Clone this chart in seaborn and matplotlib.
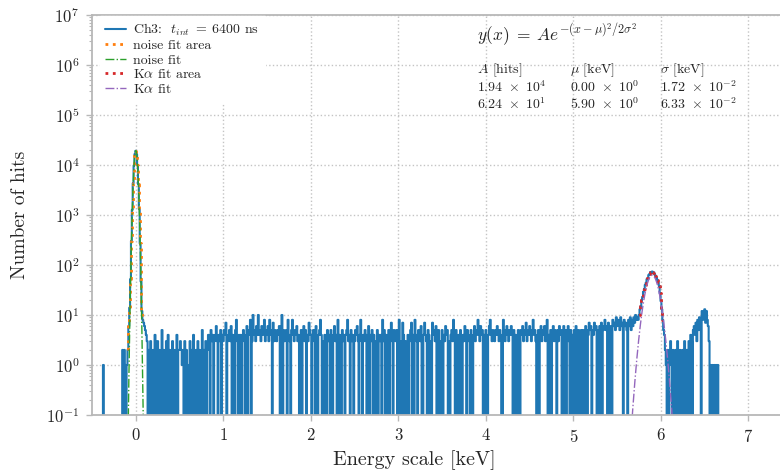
import numpy as np
import pandas as pd
import matplotlib
matplotlib.use("Agg")
import matplotlib.pyplot as plt
import seaborn as sns
from matplotlib.ticker import LogLocator, NullFormatter, FixedLocator

# ---------------- data ----------------
bin_start = -0.40      # centre of the first histogram bin [keV]
bin_width = 0.01       # [keV]

# counts per bin, one base-36 digit per bin ("a" = 10, "b" = 11, ...)
counts_left = "0001000000 0000000000 0000020210 1"            # -0.40 ... -0.10 keV
noise_peak = [2, 6, 14, 52, 301, 1270, 4310, 9780, 16500, 19200,
              16300, 9950, 4180, 1320, 270, 47, 12, 8, 7]       # -0.09 ... 0.09 keV
counts_mid = (                                                  # 0.10 ... 5.59 keV
    "6543020310 2040130201 5021030402 0130201402 2321203020"
    "1030204102 0302105020 3024305340 3463043504 3547034536"
    "0430583040 4035403604 5803a45364 a453645835 4638540735"
    "4354604a05 3450843058 4354634005 0463504375 4035406304"
    "5840304005 3405304634 0804005340 4583405340 3546304830"
    "4354036043 5040305043 4083504305 0473054350 4803074030"
    "0403570408 4305436004 7430540307 4536045030 5043645030"
    "4538405304 0500436405 4305004635 4853645040 5304684354"
    "3546435400 8435643546 4050430500 5463547354 6435845304"
    "5046354635 8040504635 4053645046 0504630504 0506045005"
    "0540650475 6054756050 6070568560 7065086759 6875967086"
)
kalpha_peak = [7, 5, 0, 8, 6, 9, 5, 8, 6, 9,
               7, 10, 8, 9, 8, 10, 13, 15, 20, 23,
               29, 33, 40, 44, 52, 55, 63, 66, 72, 68,
               74, 70, 71, 64, 60, 55, 50, 45, 38, 27,
               19, 13, 8, 5, 4, 2]                              # 5.60 ... 6.05 keV
counts_right = ("1020132021 0203102012 0302"                     # 6.06 ... 6.70 keV
                "2030430564 7385970c8a d7c8630101 0101010 0000")

noise_fit_area = (-0.09, 0.08)     # keV
kalpha_fit_area = (5.75, 6.02)     # keV
noise_fit_span = (-0.10, 0.10)
kalpha_fit_span = (5.55, 6.25)

fit_A = [1.94e4, 6.24e1]          # hits
fit_mu = [0.00, 5.90]             # keV
fit_sigma = [1.72e-2, 6.33e-2]    # keV

series_labels = [r"Ch3:  $t_{int}\;=\;6400$ ns", "noise fit area", "noise fit",
                 r"K$\alpha$ fit area", r"K$\alpha$ fit"]
x_ticks = [0, 1, 2, 3, 4, 5, 6, 7]

# ---------------- build table ----------------
def digits(s):
    return [int(c, 36) for c in s.replace(" ", "")]

counts = np.array(digits(counts_left) + noise_peak + digits(counts_mid)
                  + kalpha_peak + digits(counts_right), dtype=float)
energy = np.round(bin_start + bin_width * np.arange(len(counts)), 4)
hist = pd.DataFrame({"energy": energy, "hits": counts})

def gauss(x, A, mu, s):
    return A * np.exp(-(x - mu) ** 2 / (2 * s ** 2))

noise_area = hist[(hist.energy >= noise_fit_area[0] - 1e-9) & (hist.energy <= noise_fit_area[1] + 1e-9)]
ka_area = hist[(hist.energy >= kalpha_fit_area[0] - 1e-9) & (hist.energy <= kalpha_fit_area[1] + 1e-9)]
xn = np.linspace(*noise_fit_span, 600)
xk = np.linspace(*kalpha_fit_span, 600)
noise_fit = pd.DataFrame({"energy": xn, "hits": gauss(xn, fit_A[0], fit_mu[0], fit_sigma[0])})
ka_fit = pd.DataFrame({"energy": xk, "hits": gauss(xk, fit_A[1], fit_mu[1], fit_sigma[1])})

# ---------------- style ----------------
sns.set_theme(style="whitegrid")
plt.rcParams.update({
    "font.family": "serif",
    "font.serif": ["cmr10"],
    "mathtext.fontset": "cm",
    "axes.formatter.use_mathtext": True,
    "axes.unicode_minus": False,
})

pal = sns.color_palette("tab10")
fig = plt.figure(figsize=(7.8, 4.75), dpi=100)
ax = fig.add_axes([92 / 780, 60 / 475, 688 / 780, 400 / 475])

sns.lineplot(data=hist, x="energy", y="hits", ax=ax, color=pal[0], lw=1.5,
             drawstyle="steps-mid", estimator=None, label=series_labels[0])
sns.lineplot(data=noise_area, x="energy", y="hits", ax=ax, color=pal[1], lw=2.0,
             linestyle=":", drawstyle="steps-mid", estimator=None, label=series_labels[1])
sns.lineplot(data=noise_fit, x="energy", y="hits", ax=ax, color=pal[2], lw=1.0,
             linestyle="-.", estimator=None, label=series_labels[2])
sns.lineplot(data=ka_area, x="energy", y="hits", ax=ax, color=pal[3], lw=2.0,
             linestyle=":", drawstyle="steps-mid", estimator=None, label=series_labels[3])
sns.lineplot(data=ka_fit, x="energy", y="hits", ax=ax, color=pal[4], lw=1.0,
             linestyle="-.", estimator=None, label=series_labels[4])

ax.set_yscale("log")
ax.set_ylim(1e-1, 1e7)
ax.set_xlim(-0.5, 7.36)
ax.yaxis.set_major_locator(LogLocator(base=10, numticks=20))
ax.yaxis.set_minor_locator(LogLocator(base=10, subs=np.arange(2, 10), numticks=20))
ax.yaxis.set_minor_formatter(NullFormatter())
ax.xaxis.set_major_locator(FixedLocator(x_ticks))

ax.grid(True, which="major", linestyle=":", color="#c4c4c4", lw=1.0)
ax.grid(False, which="minor")
for side in ["left", "bottom", "top"]:
    ax.spines[side].set_color("#b8b8b8")
    ax.spines[side].set_linewidth(1.3)
ax.spines["right"].set_visible(False)
ax.tick_params(axis="both", which="major", direction="out", length=4, width=1,
               color="#b8b8b8", labelsize=12, pad=5)
ax.tick_params(axis="y", which="minor", direction="out", length=2.5, width=0.8,
               color="#b8b8b8", left=True)
ax.tick_params(axis="x", which="major", bottom=True)
ax.tick_params(axis="y", which="major", left=True)

ax.set_xlabel("Energy scale [keV]", fontsize=14.5)
ax.xaxis.set_label_coords(0.469, -0.088)
ax.set_ylabel("Number of hits", fontsize=14)
ax.yaxis.set_label_coords(-0.092, 0.5)

leg = ax.legend(loc="upper left", fontsize=10, frameon=True, framealpha=1,
                edgecolor="white", fancybox=False, handlelength=1.5,
                labelspacing=0.12, borderaxespad=0.3, handletextpad=0.5,
                bbox_to_anchor=(0.005, 1.008))

# fit table
def sci(v):
    e = int(np.floor(np.log10(abs(v)))) if v != 0 else 0
    m = v / 10 ** e
    return r"$%.2f\ \times\ 10^{%d}$" % (m, e)

tx = [0.559, 0.695, 0.826]
ax.text(tx[0], 0.95, r"$y(x)\;=\;Ae^{-(x-\mu)^2/2\sigma^2}$", transform=ax.transAxes,
        fontsize=12.5, va="center", ha="left")
heads = [r"$A$ [hits]", r"$\mu$ [keV]", r"$\sigma$ [keV]"]
for j, h in enumerate(heads):
    ax.text(tx[j], 0.862, h, transform=ax.transAxes, fontsize=10, va="center", ha="left")
for i in range(2):
    vals = [fit_A[i], fit_mu[i], fit_sigma[i]]
    for j, v in enumerate(vals):
        ax.text(tx[j], 0.8185 - 0.042 * i, sci(v), transform=ax.transAxes,
                fontsize=10, va="center", ha="left")

fig.savefig("out.png", dpi=100)
